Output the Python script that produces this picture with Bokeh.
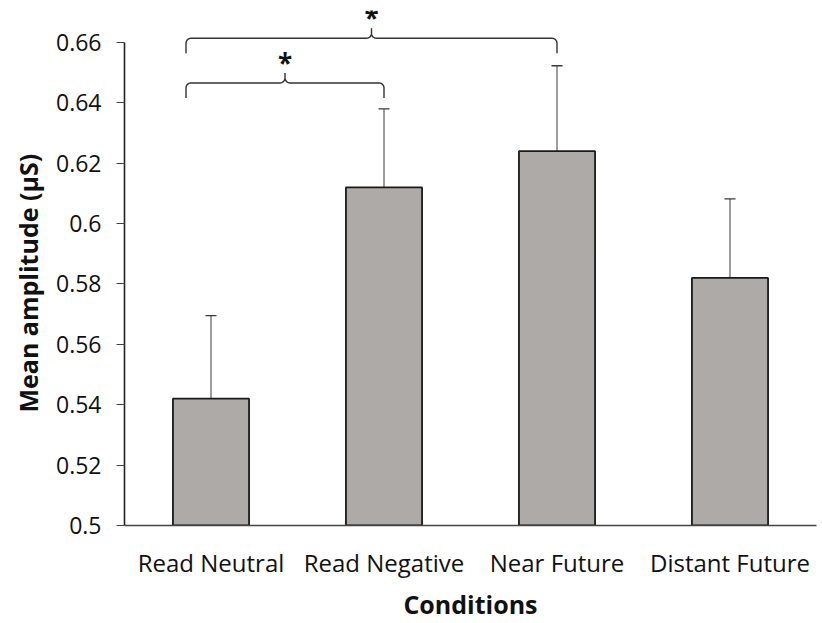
import numpy as np
from bokeh.plotting import figure
from bokeh.models import Range1d, FixedTicker, ColumnDataSource, Whisker, TeeHead, Title
from bokeh.core.properties import value
from bokeh.embed import file_html
from bokeh.resources import INLINE

# ---- data ----
categories = ["Read Neutral", "Read Negative", "Near Future", "Distant Future"]
means = [0.542, 0.612, 0.624, 0.582]
err_upper = [0.5695, 0.638, 0.6523, 0.6082]
err_lower = [0.5142, 0.586, 0.595, 0.5556]
y_ticks = [0.5, 0.52, 0.54, 0.56, 0.58, 0.6, 0.62, 0.64, 0.66]
y_tick_labels = ["0.5", "0.52", "0.54", "0.56", "0.58", "0.6", "0.62", "0.64", "0.66"]
# significance comparisons: (from index, to index, bracket level)
comparisons = [(0, 1, 0.6466), (0, 2, 0.6614)]
sig_labels = ["*", "*"]

FONT = "Open Sans"
Y0, Y1 = 0.5, 0.6706
FW, FH = 692, 515

p = figure(width=822, height=620, frame_width=FW, frame_height=FH,
           x_range=Range1d(0, len(categories)), y_range=Range1d(Y0, Y1),
           output_backend="svg", toolbar_location=None,
           min_border_left=124, min_border_right=6, min_border_top=10, min_border_bottom=95)
p.outline_line_color = None
p.grid.visible = False
p.background_fill_color = "white"

xs = [i + 0.5 for i in range(len(categories))]
src = ColumnDataSource(dict(x=xs, top=means, upper=err_upper, lower=err_lower))
p.vbar(x="x", top="top", bottom=Y0, width=0.44, source=src,
       fill_color="#aeaaa8", line_color="#1a1a1a", line_width=1.8)

w = Whisker(base="x", upper="upper", lower="lower", source=src,
            line_color="#3a3a3a", line_width=1,
            upper_head=TeeHead(size=11, line_color="#3a3a3a", line_width=1.3),
            lower_head=TeeHead(size=11, line_color="#3a3a3a", line_width=1.3))
p.add_layout(w)

# ---- braces ----
sx = len(categories) / FW   # data units per px (x)
sy = (Y1 - Y0) / FH          # data units per px (y)

def arc(cx, cy, rx, ry, t0, t1, n=8):
    t = np.radians(np.linspace(t0, t1, n))
    return list(cx + rx * np.cos(t)), list(cy + ry * np.sin(t))

def brace(x0, x1, yl, drop=15, tip=10, r=5):
    rx, ry = r * sx, r * sy
    xm = (x0 + x1) / 2
    bx, by = [x0], [yl - drop * sy]
    a = arc(x0 + rx, yl - ry, rx, ry, 180, 90); bx += a[0]; by += a[1]
    a = arc(xm - rx, yl + ry, rx, ry, 270, 360); bx += a[0]; by += a[1]
    bx.append(xm); by.append(yl + tip * sy)
    a = arc(xm + rx, yl + ry, rx, ry, 180, 270); bx += a[0]; by += a[1]
    a = arc(x1 - rx, yl - ry, rx, ry, 90, 0); bx += a[0]; by += a[1]
    bx.append(x1); by.append(yl - drop * sy)
    return bx, by, xm, yl + tip * sy

bxs, bys, tx, ty = [], [], [], []
for (i, j, lvl) in comparisons:
    x0 = xs[i] - 25 * sx
    x1 = xs[j]
    bx, by, xm, yt = brace(x0, x1, lvl)
    bxs.append(bx); bys.append(by); tx.append(xm); ty.append(yt + 10 * sy)
p.multi_line(xs=bxs, ys=bys, line_color="#333333", line_width=1.4)
p.text(x=tx, y=ty, text=sig_labels, text_align="center", text_baseline="middle",
       text_font=value(FONT), text_font_size="26px", text_font_style="bold",
       text_color="#111111")

# ---- axes ----
xa = p.xaxis[0]
xa.ticker = FixedTicker(ticks=xs)
xa.major_label_overrides = {x: c for x, c in zip(xs, categories)}
xa.major_tick_line_color = None
xa.minor_tick_line_color = None
xa.axis_line_color = "#444444"
xa.axis_line_width = 1.6
xa.major_label_text_font = FONT
xa.major_label_text_font_size = "24px"
xa.major_label_text_color = "#111111"
xa.major_label_standoff = 14
xa.axis_label = "Conditions"
xa.axis_label_text_font = FONT
xa.axis_label_text_font_style = "bold"
xa.axis_label_text_font_size = "25px"
xa.axis_label_text_color = "#111111"
xa.axis_label_standoff = 5

ya = p.yaxis[0]
ya.ticker = FixedTicker(ticks=y_ticks)
ya.major_label_overrides = {t: l for t, l in zip(y_ticks, y_tick_labels)}
ya.bounds = (y_ticks[0], y_ticks[-1])
ya.minor_tick_line_color = None
ya.major_tick_out = 8
ya.major_tick_in = 0
ya.major_tick_line_color = "#444444"
ya.axis_line_color = "#222222"
ya.axis_line_width = 1.6
ya.major_label_text_font = FONT
ya.major_label_text_font_size = "23px"
ya.major_label_text_color = "#111111"
ya.major_label_standoff = 15

# y-axis title as a side title, starting near the axis bottom
ytitle = Title(text="Mean amplitude (µS)", align="left", offset=113,
               vertical_align="top",
               text_font=FONT, text_font_style="bold", text_font_size="25px",
               text_color="#111111")
if "standoff" in Title.properties():
    ytitle.standoff = 14
p.add_layout(ytitle, "left")

open("out.html", "w").write(file_html(p, INLINE))
